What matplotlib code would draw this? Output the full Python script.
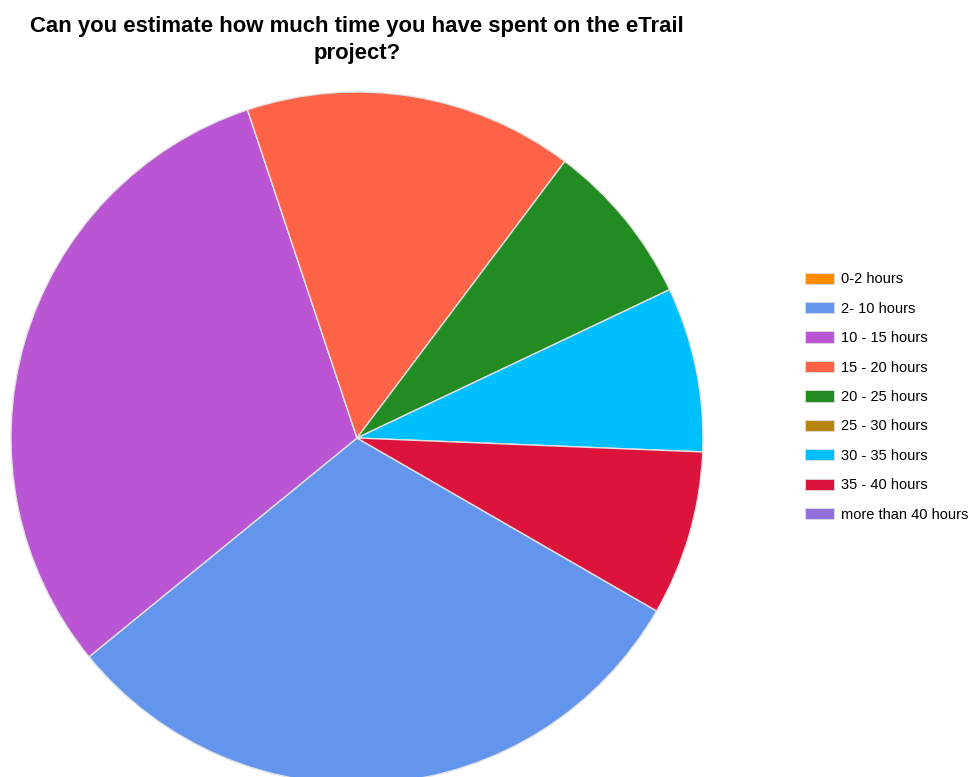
import matplotlib.pyplot as plt
from matplotlib.patches import Patch

plt.rcParams['font.family'] = ['Liberation Sans', 'DejaVu Sans']

labels = ["0-2 hours", "2- 10 hours", "10 - 15 hours", "15 - 20 hours",
          "20 - 25 hours", "25 - 30 hours", "30 - 35 hours", "35 - 40 hours",
          "more than 40 hours"]
counts = [0, 4, 4, 2, 1, 0, 1, 1, 0]
colors = ["#FF8C00", "#6495ED", "#BA55D3", "#FF6347", "#228B22",
          "#B8860B", "#00BFFF", "#DC143C", "#9370DB"]

W, H = 973, 777
fig = plt.figure(figsize=(W / 100, H / 100), dpi=100)
ax = fig.add_axes([0, 0, 1, 1])

# zero-count answers have no wedge, only a legend entry
vals = [c for c in counts if c > 0]
cols = [col for c, col in zip(counts, colors) if c > 0]
ax.pie(vals, colors=cols, startangle=-30, counterclock=False,
       center=(357, H - 438), radius=346, frame=True,
       wedgeprops=dict(edgecolor="#e2e2e2", linewidth=1))
ax.set_xlim(0, W)
ax.set_ylim(0, H)
ax.axis("off")

fig.text(357 / W, 1 - 16 / H,
         "Can you estimate how much time you have spent on the eTrail\nproject?",
         ha="center", va="top", fontsize=15.9, fontweight="bold", linespacing=1.35)

handles = [Patch(facecolor=c, edgecolor="#dddddd", linewidth=0.6) for c in colors]
fig.legend(handles, labels, loc="center left",
           bbox_to_anchor=(805 / W, 1 - 397 / H), bbox_transform=fig.transFigure,
           frameon=False, fontsize=10.5, labelspacing=1.06, handlelength=2.0,
           handleheight=0.8, handletextpad=0.5, borderpad=0, borderaxespad=0)

fig.savefig("out.png", dpi=100)
